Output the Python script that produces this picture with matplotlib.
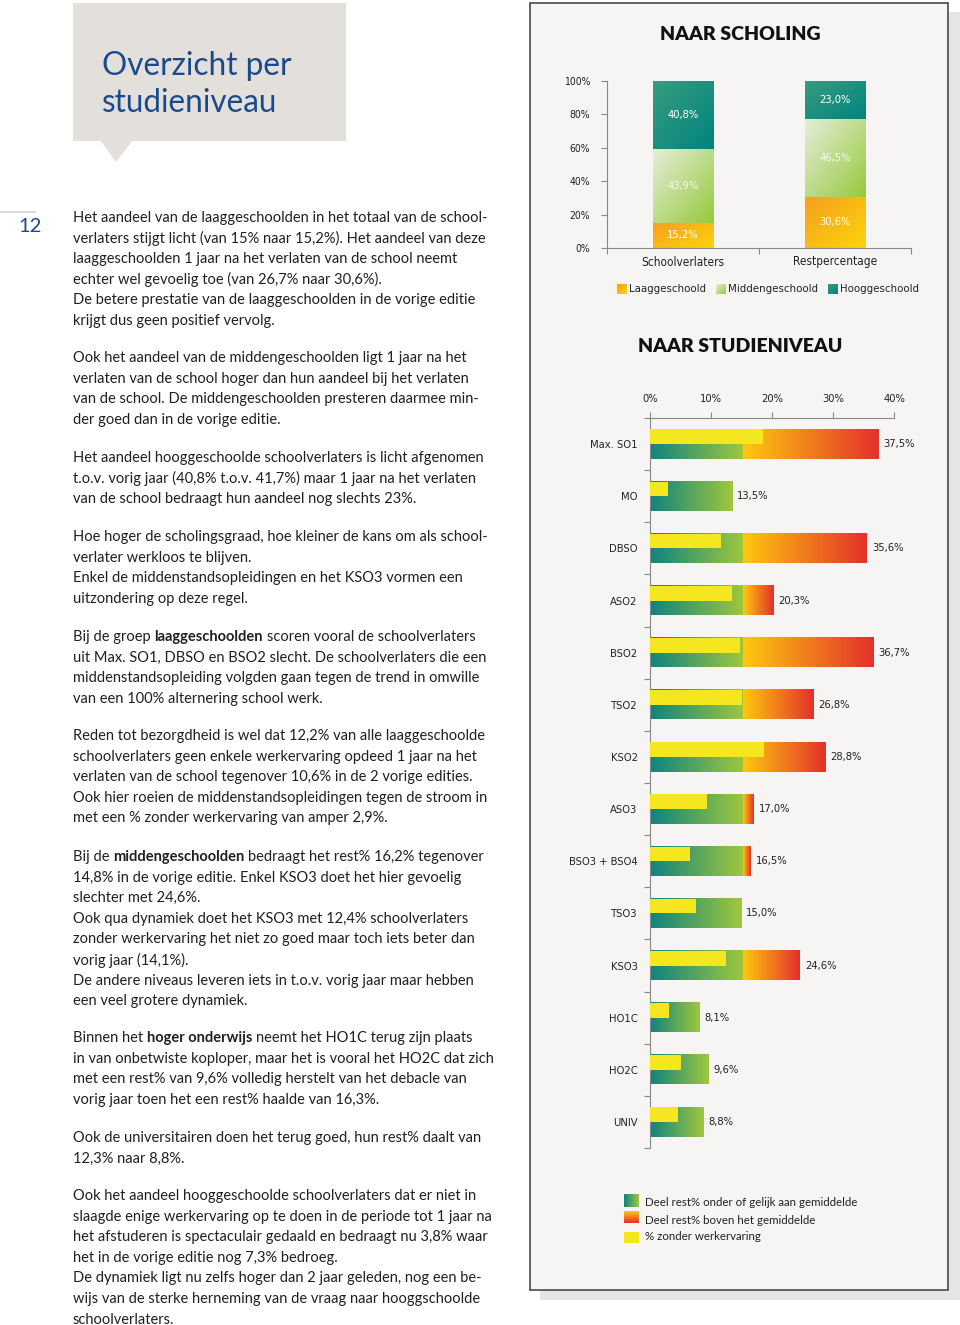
import numpy as np
import matplotlib
matplotlib.use("Agg")
import matplotlib.pyplot as plt
from matplotlib import font_manager
from matplotlib.patches import Rectangle, Polygon
from matplotlib.colors import LinearSegmentedColormap

# naar scholing
scholing = ["Schoolverlaters", "Restpercentage"]
laag = [15.2, 30.6]
midden = [43.9, 46.5]
hoog = [40.8, 23.0]
scholing_legend = ["Laaggeschoold", "Middengeschoold", "Hooggeschoold"]

# naar studieniveau
niveaus = ["Max. SO1", "MO", "DBSO", "ASO2", "BSO2", "TSO2", "KSO2", "ASO3",
           "BSO3 + BSO4", "TSO3", "KSO3", "HO1C", "HO2C", "UNIV"]
rest = [37.5, 13.5, 35.6, 20.3, 36.7, 26.8, 28.8, 17.0, 16.5, 15.0, 24.6, 8.1, 9.6, 8.8]
zonder = [18.6, 2.9, 11.6, 13.4, 14.8, 15.0, 18.7, 9.3, 6.6, 7.5, 12.4, 3.1, 5.0, 4.6]
gemiddelde = 15.3
studie_legend = ["Deel rest% onder of gelijk aan gemiddelde",
                 "Deel rest% boven het gemiddelde",
                 "% zonder werkervaring"]

paragraphs = [
    (218, ["Het aandeel van de laaggeschoolden in het totaal van de school-",
           "verlaters stijgt licht (van 15% naar 15,2%). Het aandeel van deze",
           "laaggeschoolden 1 jaar na het verlaten van de school neemt",
           "echter wel gevoelig toe (van 26,7% naar 30,6%).",
           "De betere prestatie van de laaggeschoolden in de vorige editie",
           "krijgt dus geen positief vervolg."]),
    (358, ["Ook het aandeel van de middengeschoolden ligt 1 jaar na het",
           "verlaten van de school hoger dan hun aandeel bij het verlaten",
           "van de school. De middengeschoolden presteren daarmee min-",
           "der goed dan in de vorige editie."]),
    (458, ["Het aandeel hooggeschoolde schoolverlaters is licht afgenomen",
           "t.o.v. vorig jaar (40,8% t.o.v. 41,7%) maar 1 jaar na het verlaten",
           "van de school bedraagt hun aandeel nog slechts 23%."]),
    (537, ["Hoe hoger de scholingsgraad, hoe kleiner de kans om als school-",
           "verlater werkloos te blijven.",
           "Enkel de middenstandsopleidingen en het KSO3 vormen een",
           "uitzondering op deze regel."]),
    (637, ["Bij de groep **laaggeschoolden** scoren vooral de schoolverlaters",
           "uit Max. SO1, DBSO en BSO2 slecht. De schoolverlaters die een",
           "middenstandsopleiding volgden gaan tegen de trend in omwille",
           "van een 100% alternering school werk."]),
    (736, ["Reden tot bezorgdheid is wel dat 12,2% van alle laaggeschoolde",
           "schoolverlaters geen enkele werkervaring opdeed 1 jaar na het",
           "verlaten van de school tegenover 10,6% in de 2 vorige edities.",
           "Ook hier roeien de middenstandsopleidingen tegen de stroom in",
           "met een % zonder werkervaring van amper 2,9%."]),
    (857, ["Bij de **middengeschoolden** bedraagt het rest% 16,2% tegenover",
           "14,8% in de vorige editie. Enkel KSO3 doet het hier gevoelig",
           "slechter met 24,6%.",
           "Ook qua dynamiek doet het KSO3 met 12,4% schoolverlaters",
           "zonder werkervaring het niet zo goed maar toch iets beter dan",
           "vorig jaar (14,1%).",
           "De andere niveaus leveren iets in t.o.v. vorig jaar maar hebben",
           "een veel grotere dynamiek."]),
    (1038, ["Binnen het **hoger onderwijs** neemt het HO1C terug zijn plaats",
            "in van onbetwiste koploper, maar het is vooral het HO2C dat zich",
            "met een rest% van 9,6% volledig herstelt van het debacle van",
            "vorig jaar toen het een rest% haalde van 16,3%."]),
    (1138, ["Ook de universitairen doen het terug goed, hun rest% daalt van",
            "12,3% naar 8,8%."]),
    (1196, ["Ook het aandeel hooggeschoolde schoolverlaters dat er niet in",
            "slaagde enige werkervaring op te doen in de periode tot 1 jaar na",
            "het afstuderen is spectaculair gedaald en bedraagt nu 3,8% waar",
            "het in de vorige editie nog 7,3% bedroeg.",
            "De dynamiek ligt nu zelfs hoger dan 2 jaar geleden, nog een be-",
            "wijs van de sterke herneming van de vraag naar hooggschoolde",
            "schoolverlaters."]),
]

# condensed font for the chart labels, if one is installed
fonts = font_manager.fontManager.ttflist
names = {f.name for f in fonts}
if "Liberation Sans Narrow" in names:
    COND = dict(family="Liberation Sans Narrow")
elif any(f.name == "DejaVu Sans" and f.stretch == "condensed" for f in fonts):
    COND = dict(family="DejaVu Sans", stretch="condensed")
else:
    COND = dict(family="Roboto", weight="medium")
BODY = "Lato"
BLUE = "#1b4a8c"
TEXT = "#231f20"

TEAL, GREEN = "#0f847e", "#9fc73c"
ORANGE, RED = "#fdc80e", "#e4312b"
YELLOW = "#f4e61f"

W, H = 960, 1325
fig = plt.figure(figsize=(W / 100, H / 100), dpi=100)
page = fig.add_axes([0, 0, 1, 1])
page.axis("off")


def px_axes(x0, y0, x1, y1):
    return fig.add_axes([x0 / W, 1 - y1 / H, (x1 - x0) / W, (y1 - y0) / H])


def grad(ax, x0, x1, y0, y1, c0, c1, diag=False, z=2):
    cmap = LinearSegmentedColormap.from_list("g", [c0, c1])
    if diag:
        t = np.linspace(0, 1, 60)
        arr = np.add.outer(t, t) / 2
    else:
        arr = np.tile(np.linspace(0, 1, 120), (2, 1))
    ax.imshow(arr, cmap=cmap, extent=(x0, x1, y0, y1), aspect="auto",
              interpolation="bilinear", zorder=z)


# page decoration
page.add_patch(Rectangle((540, 12), 430, 1288, facecolor="#e6e5e3", edgecolor="none", zorder=0))
page.add_patch(Rectangle((530, 3), 418, 1287, facecolor="#f6f5f3", edgecolor="#4a4a4a", lw=1.2, zorder=1))
page.add_patch(Rectangle((73, 3), 273, 138, facecolor="#e3dfda", edgecolor="none"))
page.add_patch(Polygon([(100, 140), (133, 140), (116, 162)], closed=True, facecolor="#e3dfda", edgecolor="none"))
page.text(102, 66, "Overzicht per", fontsize=22.7, family=BODY, color=BLUE, va="center")
page.text(102, 103, "studieniveau", fontsize=22.7, family=BODY, color=BLUE, va="center")
page.plot([0, 35], [212, 212], color="#cfcfcf", lw=1.2)
page.text(18, 226, "12", fontsize=14.5, family=BODY, color=BLUE, va="center")

page.text(740, 35, "NAAR SCHOLING", fontsize=14, family=BODY, weight="heavy", color="#111111", ha="center", va="center")
page.text(740, 347, "NAAR STUDIENIVEAU", fontsize=14, family=BODY, weight="heavy", color="#111111", ha="center", va="center")

# body text, bold parts marked with **
renderer = fig.canvas.get_renderer()
sa = page.text(0, -100, "a a", fontsize=10.5, family=BODY)
sb = page.text(0, -100, "aa", fontsize=10.5, family=BODY)
page.set_xlim(0, W)
page.set_ylim(H, 0)
space = sa.get_window_extent(renderer).width - sb.get_window_extent(renderer).width
sa.remove()
sb.remove()
for y0, lines in paragraphs:
    for k, line in enumerate(lines):
        y = y0 + k * 20.6
        x = 73
        parts = line.split("**")
        for j, seg in enumerate(parts):
            if not seg:
                continue
            t = page.text(x, y, seg.strip(), fontsize=10.5, family=BODY, color=TEXT,
                          weight="bold" if j % 2 else "normal", va="center")
            x += t.get_window_extent(renderer).width
            if j + 1 < len(parts):
                x += space

# legend naar scholing
leg_cols = [("#f5a01f", "#fdd40c"), ("#e4eed8", "#97c93d"), ("#3a9c7e", "#00847f")]
for x0, lab, (c0, c1) in zip([617, 716, 828], scholing_legend, leg_cols):
    grad(page, x0, x0 + 10, 294, 284, c0, c1, diag=True, z=3)
    page.text(x0 + 12, 289, lab, fontsize=8.2, color="#222222", va="center", **COND)

# legend naar studieniveau
leg2 = [(TEAL, GREEN), (ORANGE, RED), (YELLOW, YELLOW)]
for (ytop, ybot, yc), lab, (c0, c1) in zip([(1194, 1207, 1203), (1211, 1223, 1220), (1232, 1243, 1237)], studie_legend, leg2):
    if lab.startswith("Deel rest% boven"):
        arr = np.tile(np.linspace(0, 1, 50)[:, None], (1, 2))
        page.imshow(arr, cmap=LinearSegmentedColormap.from_list("v", [c0, c1]), extent=(624, 639, ybot, ytop), aspect="auto", zorder=3)
    else:
        grad(page, 624, 639, ybot, ytop, c0, c1, z=3)
    page.text(645, yc, lab, fontsize=8.3, family=BODY, color="#222222", va="center")
page.set_xlim(0, W)
page.set_ylim(H, 0)

# chart 1: naar scholing
ax1 = px_axes(607, 81, 911, 248)
ax1.patch.set_alpha(0)
w = 0.4
cols = [("#f5a01f", "#fdd40c", "white"), ("#e4eed8", "#97c93d", "#f4f8ee"), ("#3a9c7e", "#00847f", "white")]
for i in range(len(scholing)):
    bottom = 0
    for vals, (c0, c1, tc) in zip([laag, midden, hoog], cols):
        v = vals[i]
        grad(ax1, i - w / 2, i + w / 2, bottom, bottom + v, c0, c1, diag=True)
        ax1.text(i, bottom + v / 2, f"{v:.1f}%".replace(".", ","), ha="center", va="center",
                 fontsize=8, color=tc, zorder=4, **COND)
        bottom += v
    ax1.annotate(scholing[i], xy=(i, 0), xycoords=("data", "axes fraction"), xytext=(0, -14),
                 textcoords="offset pixels", ha="center", va="center", fontsize=8.5, color="#222222", **COND)
ax1.set_xlim(-0.5, 1.5)
ax1.set_ylim(0, 100)
ax1.set_yticks(range(0, 101, 20))
ax1.set_yticklabels([f"{v}%" for v in range(0, 101, 20)], fontsize=7.5, color="#222222", **COND)
ax1.set_xticks([-0.5, 0.5, 1.5])
ax1.set_xticklabels([])
ax1.tick_params(axis="both", length=4, width=0.8, color="#888888")
ax1.tick_params(axis="y", pad=8)
for s in ["top", "right"]:
    ax1.spines[s].set_visible(False)
for s in ["left", "bottom"]:
    ax1.spines[s].set_color("#888888")
    ax1.spines[s].set_linewidth(0.8)

# chart 2: naar studieniveau
ax2 = px_axes(650, 418, 894, 1148)
ax2.patch.set_alpha(0)
h = 0.56
for i, (v, z) in enumerate(zip(rest, zonder)):
    g = min(v, gemiddelde)
    grad(ax2, 0, g, i + h / 2, i - h / 2, TEAL, GREEN)
    if v > gemiddelde:
        grad(ax2, gemiddelde, v, i + h / 2, i - h / 2, ORANGE, RED)
    ax2.barh(i - h / 4, z, height=h / 2, color=YELLOW, zorder=3)
    ax2.text(v + 0.8, i, f"{v:.1f}%".replace(".", ","), va="center", fontsize=8, color="#222222", **COND)
ax2.set_xlim(0, 40)
ax2.set_ylim(len(niveaus) - 0.5, -0.5)
ax2.xaxis.tick_top()
ax2.set_xticks(range(0, 41, 10))
ax2.set_xticklabels([f"{v}%" for v in range(0, 41, 10)], fontsize=8, color="#222222", **COND)
ax2.set_yticks(range(len(niveaus)))
ax2.set_yticklabels(niveaus, fontsize=8, color="#222222", **COND)
ax2.set_yticks(np.arange(-0.5, len(niveaus), 1), minor=True)
ax2.tick_params(axis="y", which="major", length=0, pad=9)
ax2.tick_params(axis="y", which="minor", length=4, width=0.8, color="#888888")
ax2.tick_params(axis="x", length=4, width=0.8, color="#888888", pad=6)
for s in ["bottom", "right"]:
    ax2.spines[s].set_visible(False)
for s in ["left", "top"]:
    ax2.spines[s].set_color("#888888")
    ax2.spines[s].set_linewidth(0.8)

fig.savefig("out.png", dpi=100, facecolor="white")
